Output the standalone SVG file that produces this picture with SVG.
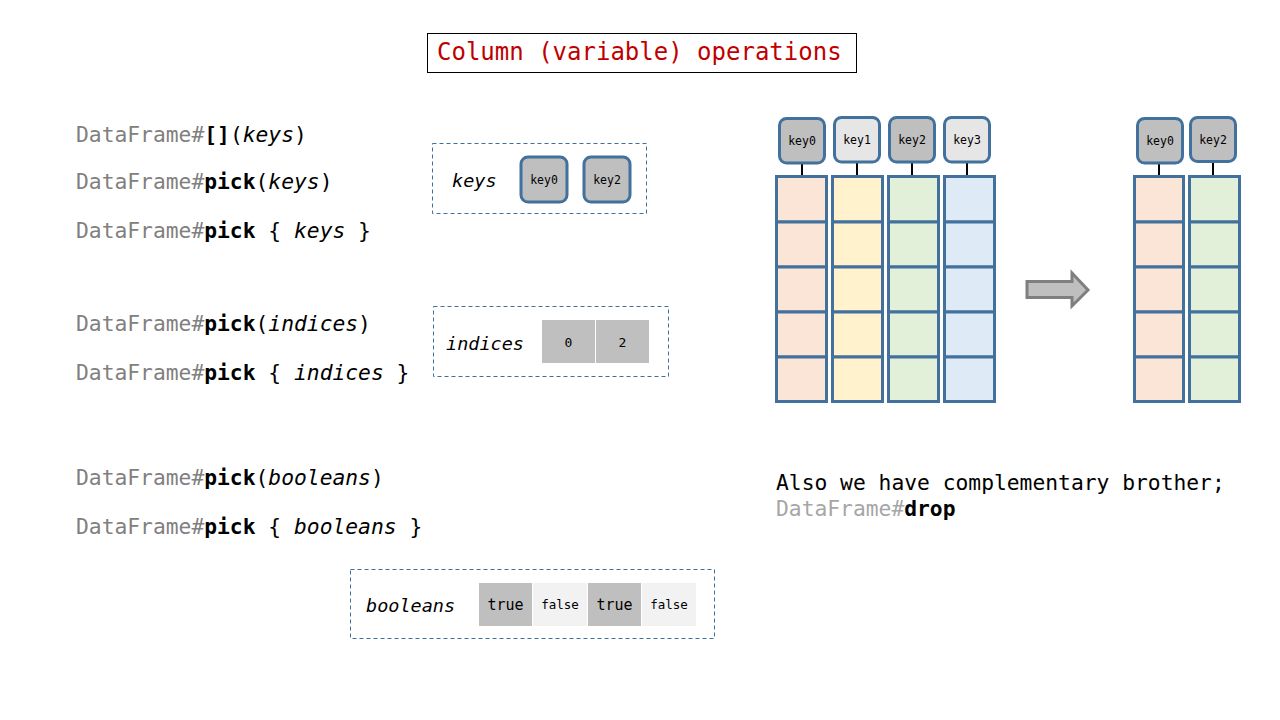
<svg xmlns="http://www.w3.org/2000/svg" width="1280" height="720" viewBox="0 0 1280 720">
<style>
text{font-family:"DejaVu Sans Mono","Liberation Mono",monospace;}
.code{font-size:21.3px;fill:#000;}
.g{fill:#808080;}
.b{font-weight:bold;}
.i{font-style:italic;}
.dash{fill:none;stroke:#41719c;stroke-width:1;stroke-dasharray:4 3;}
.key{stroke:#41719c;stroke-width:3;}
.keyt{font-size:11.5px;fill:#000;text-anchor:middle;}
.cell{stroke:#41719c;stroke-width:3;}
.c0{fill:#fbe5d6;}.c1{fill:#fff2cc;}.c2{fill:#e2f0d9;}.c3{fill:#deebf7;}
.dk{fill:#bfbfbf;}.lt{fill:#e7e6e6;}
.link{stroke:#000;stroke-width:2;}
</style>
<rect width="1280" height="720" fill="#fff"/>
<g id="title">
<rect x="427.5" y="33.5" width="429" height="39" fill="#fff" stroke="#000" stroke-width="1"/>
<text x="437" y="60" font-size="24" fill="#c00000">Column (variable) operations</text>
</g>
<g id="code-lines">
<text class="code" x="76" y="142"><tspan class="g">DataFrame#</tspan><tspan class="b">[]</tspan>(<tspan class="i">keys</tspan>)</text>
<text class="code" x="76" y="189"><tspan class="g">DataFrame#</tspan><tspan class="b">pick</tspan>(<tspan class="i">keys</tspan>)</text>
<text class="code" x="76" y="238" xml:space="preserve"><tspan class="g">DataFrame#</tspan><tspan class="b">pick</tspan> { <tspan class="i">keys</tspan> }</text>
<text class="code" x="76" y="331"><tspan class="g">DataFrame#</tspan><tspan class="b">pick</tspan>(<tspan class="i">indices</tspan>)</text>
<text class="code" x="76" y="380" xml:space="preserve"><tspan class="g">DataFrame#</tspan><tspan class="b">pick</tspan> { <tspan class="i">indices</tspan> }</text>
<text class="code" x="76" y="485"><tspan class="g">DataFrame#</tspan><tspan class="b">pick</tspan>(<tspan class="i">booleans</tspan>)</text>
<text class="code" x="76" y="534" xml:space="preserve"><tspan class="g">DataFrame#</tspan><tspan class="b">pick</tspan> { <tspan class="i">booleans</tspan> }</text>
</g>
<g id="keys-box">
<rect class="dash" x="432.5" y="143.5" width="214" height="70"/>
<text x="452" y="187" font-size="18.5" font-style="italic">keys</text>
<rect class="key dk" x="521" y="157" width="46" height="45" rx="7"/>
<text class="keyt" x="544" y="184">key0</text>
<rect class="key dk" x="584" y="157" width="46" height="45" rx="7"/>
<text class="keyt" x="607" y="184">key2</text>
</g>
<g id="indices-box">
<rect class="dash" x="433.5" y="306.5" width="235" height="70"/>
<text x="446" y="350" font-size="18.5" font-style="italic">indices</text>
<rect x="542" y="320" width="53" height="43" fill="#bfbfbf"/>
<rect x="596" y="320" width="53" height="43" fill="#bfbfbf"/>
<text x="568.5" y="347" font-size="13" text-anchor="middle">0</text>
<text x="622.5" y="347" font-size="13" text-anchor="middle">2</text>
</g>
<g id="booleans-box">
<rect class="dash" x="350.5" y="569.5" width="364" height="69"/>
<text x="366" y="612" font-size="18.5" font-style="italic">booleans</text>
<rect x="479" y="583" width="53" height="43" fill="#bfbfbf"/>
<rect x="533" y="583" width="54" height="43" fill="#f2f2f2"/>
<rect x="588" y="583" width="53" height="43" fill="#bfbfbf"/>
<rect x="642" y="583" width="54" height="43" fill="#f2f2f2"/>
<text x="505.5" y="610" font-size="15" text-anchor="middle">true</text>
<text x="560" y="609" font-size="12.5" text-anchor="middle">false</text>
<text x="614.5" y="610" font-size="15" text-anchor="middle">true</text>
<text x="669" y="609" font-size="12.5" text-anchor="middle">false</text>
</g>
<g id="connectors">
<line class="link" x1="802" y1="163" x2="802" y2="176"/>
<line class="link" x1="857" y1="163" x2="857" y2="176"/>
<line class="link" x1="912" y1="163" x2="912" y2="176"/>
<line class="link" x1="967" y1="163" x2="967" y2="176"/>
<line class="link" x1="1159" y1="163" x2="1159" y2="176"/>
<line class="link" x1="1213" y1="162" x2="1213" y2="176"/>
</g>
<g id="source-frame">
<g id="col0">
<rect class="cell c0" x="776.5" y="176.5" width="50" height="45.5"/>
<rect class="cell c0" x="776.5" y="222" width="50" height="45"/>
<rect class="cell c0" x="776.5" y="267" width="50" height="45"/>
<rect class="cell c0" x="776.5" y="312" width="50" height="45"/>
<rect class="cell c0" x="776.5" y="357" width="50" height="44.5"/>
</g>
<g id="col1">
<rect class="cell c1" x="832.5" y="176.5" width="50" height="45.5"/>
<rect class="cell c1" x="832.5" y="222" width="50" height="45"/>
<rect class="cell c1" x="832.5" y="267" width="50" height="45"/>
<rect class="cell c1" x="832.5" y="312" width="50" height="45"/>
<rect class="cell c1" x="832.5" y="357" width="50" height="44.5"/>
</g>
<g id="col2">
<rect class="cell c2" x="888.5" y="176.5" width="50" height="45.5"/>
<rect class="cell c2" x="888.5" y="222" width="50" height="45"/>
<rect class="cell c2" x="888.5" y="267" width="50" height="45"/>
<rect class="cell c2" x="888.5" y="312" width="50" height="45"/>
<rect class="cell c2" x="888.5" y="357" width="50" height="44.5"/>
</g>
<g id="col3">
<rect class="cell c3" x="944.5" y="176.5" width="50" height="45.5"/>
<rect class="cell c3" x="944.5" y="222" width="50" height="45"/>
<rect class="cell c3" x="944.5" y="267" width="50" height="45"/>
<rect class="cell c3" x="944.5" y="312" width="50" height="45"/>
<rect class="cell c3" x="944.5" y="357" width="50" height="44.5"/>
</g>
<g id="src-key0"><rect class="key dk" x="779.5" y="118.5" width="45" height="44.5" rx="7"/><text class="keyt" x="802" y="145">key0</text></g>
<g id="src-key1"><rect class="key lt" x="834.5" y="117.5" width="45" height="44.5" rx="7"/><text class="keyt" x="857" y="144">key1</text></g>
<g id="src-key2"><rect class="key dk" x="889.5" y="117.5" width="45" height="44.5" rx="7"/><text class="keyt" x="912" y="144">key2</text></g>
<g id="src-key3"><rect class="key lt" x="944.5" y="117.5" width="45" height="44.5" rx="7"/><text class="keyt" x="967" y="144">key3</text></g>
</g>
<g id="arrow">
<polygon points="1027,281.5 1072,281.5 1072,273 1088,290 1072,306 1072,297.5 1027,297.5" fill="#bfbfbf" stroke="#7f7f7f" stroke-width="3"/>
</g>
<g id="result-frame">
<g id="rcol0">
<rect class="cell c0" x="1134.5" y="176.5" width="49" height="45.5"/>
<rect class="cell c0" x="1134.5" y="222" width="49" height="45"/>
<rect class="cell c0" x="1134.5" y="267" width="49" height="45"/>
<rect class="cell c0" x="1134.5" y="312" width="49" height="45"/>
<rect class="cell c0" x="1134.5" y="357" width="49" height="44.5"/>
</g>
<g id="rcol2">
<rect class="cell c2" x="1189.5" y="176.5" width="50" height="45.5"/>
<rect class="cell c2" x="1189.5" y="222" width="50" height="45"/>
<rect class="cell c2" x="1189.5" y="267" width="50" height="45"/>
<rect class="cell c2" x="1189.5" y="312" width="50" height="45"/>
<rect class="cell c2" x="1189.5" y="357" width="50" height="44.5"/>
</g>
<g id="res-key0"><rect class="key dk" x="1137.5" y="118.5" width="45" height="44.5" rx="7"/><text class="keyt" x="1160" y="145">key0</text></g>
<g id="res-key2"><rect class="key dk" x="1190.5" y="117.5" width="45" height="44" rx="7"/><text class="keyt" x="1213" y="144">key2</text></g>
</g>
<g id="note">
<text class="code" x="776" y="490">Also we have complementary brother;</text>
<text class="code" x="776" y="516"><tspan fill="#a6a6a6">DataFrame#</tspan><tspan class="b">drop</tspan></text>
</g>
</svg>
